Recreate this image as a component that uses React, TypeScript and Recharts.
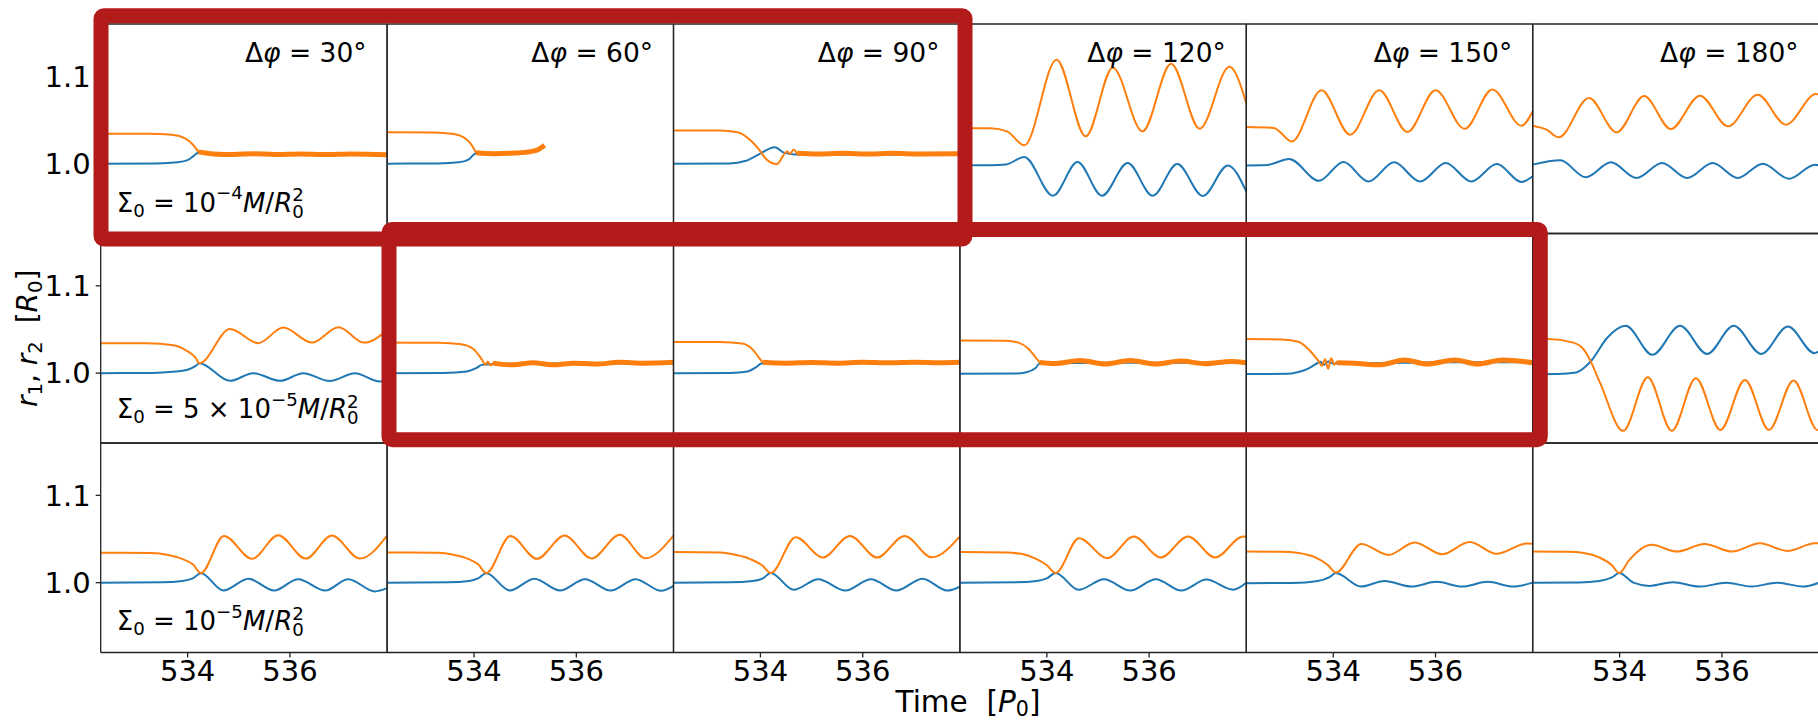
import React from "react";
import { LineChart, Line, XAxis, YAxis } from "recharts";

const FIG_W = 1818;
const FIG_H = 721;
const X0 = 100.7;
const Y0 = 24;
const W = 286.4;
const H = 209.5;

const T_DOMAIN = [532.3, 537.9];
const R_DOMAIN = [0.92, 1.16];
const X_TICKS = [534, 536];
const Y_TICKS = [1.0, 1.1];
const DPHI = [30, 60, 90, 120, 150, 180];
const SIGMA_ROWS = [
  { pre: "", exp: "4" },
  { pre: "5 × ", exp: "5" },
  { pre: "", exp: "5" },
];

const BLUE = "#1f77b4";
const ORANGE = "#ff7f0e";
const BOX = "#b31b1b";
const FONT = "DejaVu Sans";

// row a: Sigma0 = 1e-4
const a30Blue = [[532.3, 1.0], [533.4, 1.0003], [533.8, 1.0015], [534.0, 1.004], [534.12, 1.009], [534.21, 1.0125], [534.6, 1.0108], [535.5, 1.0105], [536.5, 1.0105], [537.9, 1.0103]];
const a30Orange = [[532.3, 1.0344], [533.2, 1.0343], [533.7, 1.033], [533.95, 1.029], [534.1, 1.022], [534.21, 1.0135]];
const a30Band = [[534.21, 1.0135], [534.5, 1.0112], [534.9, 1.0106], [535.3, 1.0115], [535.7, 1.0105], [536.2, 1.0112], [536.7, 1.0104], [537.2, 1.0112], [537.9, 1.0103]];

const a60Blue = [[532.3, 1.0], [533.3, 1.0003], [533.7, 1.0015], [533.9, 1.005], [534.04, 1.012], [534.5, 1.0115], [535.0, 1.013], [535.38, 1.019]];
const a60Orange = [[532.3, 1.0359], [533.2, 1.0357], [533.6, 1.034], [533.85, 1.028], [533.97, 1.02], [534.04, 1.0125]];
const a60Band = [[534.04, 1.0125], [534.4, 1.0115], [534.8, 1.0122], [535.1, 1.0138], [535.25, 1.016], [535.38, 1.021]];

const a90Blue = [[532.3, 1.0], [533.4, 1.0003], [533.7, 1.003], [533.95, 1.01], [534.28, 1.0187], [534.47, 1.0124], [534.7, 1.0105], [535.5, 1.0103], [536.5, 1.0103], [537.9, 1.0103]];
const a90Orange = [[532.3, 1.0381], [533.2, 1.038], [533.55, 1.036], [533.8, 1.027], [534.0, 1.014], [534.1, 1.006], [534.32, 0.9996], [534.52, 1.014], [534.58, 1.0115], [534.65, 1.016], [534.72, 1.011]];
const a90Band = [[534.72, 1.012], [535.1, 1.0112], [535.6, 1.0118], [536.1, 1.0112], [536.6, 1.0118], [537.1, 1.0112], [537.9, 1.0115]];

const a120Blue = [[532.3, 0.998], [532.9, 0.9982], [533.2, 0.999], [533.56, 1.0077], [534.12, 0.9633], [534.6, 1.0019], [535.08, 0.9633], [535.58, 1.0008], [536.07, 0.9633], [536.55, 0.9996], [537.05, 0.963], [537.54, 0.998], [537.9, 0.968]];
const a120Orange = [[532.3, 1.0409], [532.9, 1.0405], [533.22, 1.037], [533.56, 1.021], [534.19, 1.1191], [534.76, 1.0313], [535.29, 1.11], [535.87, 1.037], [536.43, 1.1145], [536.99, 1.0401], [537.57, 1.1111], [537.9, 1.0695]];

const a150Blue = [[532.3, 0.998], [532.7, 0.9985], [533.14, 1.0054], [533.72, 0.9803], [534.2, 1.0019], [534.69, 0.9795], [535.19, 1.0015], [535.7, 0.9795], [536.2, 1.0008], [536.7, 0.9795], [537.2, 0.9996], [537.68, 0.979], [537.9, 0.9855]];
const a150Orange = [[532.3, 1.042], [532.84, 1.041], [533.19, 1.0255], [533.77, 1.084], [534.33, 1.0332], [534.9, 1.0842], [535.45, 1.0363], [536.0, 1.0842], [536.57, 1.04], [537.11, 1.085], [537.68, 1.0435], [537.9, 1.06]];

const a180Blue = [[532.3, 0.9989], [532.84, 1.0038], [533.34, 0.9843], [533.83, 1.0015], [534.33, 0.9836], [534.83, 1.0008], [535.32, 0.9836], [535.82, 1.0008], [536.31, 0.9836], [536.8, 1.0], [537.31, 0.9828], [537.82, 0.9989], [537.9, 0.998]];
const a180Orange = [[532.3, 1.0435], [532.57, 1.039], [532.81, 1.0302], [533.4, 1.0753], [533.94, 1.0359], [534.48, 1.0774], [535.0, 1.0397], [535.57, 1.0779], [536.12, 1.0428], [536.7, 1.079], [537.25, 1.0447], [537.84, 1.0798], [537.9, 1.0795]];

// row b: Sigma0 = 5e-5
const b30Blue = [[532.3, 1.0], [533.3, 1.0003], [533.7, 1.0015], [534.0, 1.004], [534.15, 1.008], [534.23, 1.0115], [534.83, 0.9912], [535.28, 1.0], [535.81, 0.9912], [536.26, 1.0], [536.78, 0.991], [537.27, 1.0], [537.76, 0.9904], [537.9, 0.9915]];
const b30Orange = [[532.3, 1.0344], [533.2, 1.0342], [533.72, 1.032], [534.0, 1.025], [534.15, 1.018], [534.23, 1.0115], [534.83, 1.0507], [535.38, 1.0344], [535.87, 1.0522], [536.43, 1.035], [536.95, 1.0527], [537.45, 1.035], [537.9, 1.049]];

const b60Blue = [[532.3, 1.0], [533.4, 1.0003], [533.86, 1.002], [534.05, 1.006], [534.15, 1.0095], [534.5, 1.0105], [535.5, 1.011], [536.5, 1.0112], [537.9, 1.0115]];
const b60Orange = [[532.3, 1.035], [533.3, 1.0348], [533.75, 1.033], [533.98, 1.028], [534.1, 1.02], [534.17, 1.014], [534.22, 1.0095], [534.27, 1.0135], [534.32, 1.009], [534.37, 1.012]];
const b60Band = [[534.37, 1.0115], [534.75, 1.0095], [535.15, 1.012], [535.55, 1.0095], [535.95, 1.0115], [536.4, 1.0105], [536.85, 1.0125], [537.3, 1.0115], [537.9, 1.0125]];

const b90Blue = [[532.3, 1.0], [533.4, 1.0003], [533.75, 1.002], [533.92, 1.007], [534.02, 1.011], [534.5, 1.0115], [535.5, 1.0115], [536.5, 1.0118], [537.9, 1.012]];
const b90Orange = [[532.3, 1.0358], [533.2, 1.0356], [533.64, 1.034], [533.85, 1.027], [533.98, 1.017], [534.05, 1.012]];
const b90Band = [[534.05, 1.0125], [534.5, 1.0115], [535.0, 1.0122], [535.5, 1.0115], [536.0, 1.0125], [536.5, 1.0118], [537.0, 1.0125], [537.5, 1.012], [537.9, 1.0125]];

const b120Blue = [[532.3, 0.9992], [533.4, 0.9995], [533.6, 1.001], [533.78, 1.006], [533.86, 1.011], [534.3, 1.0115], [535.3, 1.0118], [536.3, 1.012], [537.9, 1.012]];
const b120Orange = [[532.3, 1.0373], [533.2, 1.037], [533.44, 1.035], [533.64, 1.028], [533.78, 1.018], [533.86, 1.0121]];
const b120Band = [[533.86, 1.0121], [534.15, 1.011], [534.65, 1.0145], [535.14, 1.0105], [535.63, 1.0145], [536.12, 1.0105], [536.62, 1.014], [537.1, 1.0108], [537.6, 1.0135], [537.9, 1.012]];

const b150Blue = [[532.3, 0.999], [533.1, 0.9992], [533.3, 1.001], [533.5, 1.005], [533.65, 1.01], [533.75, 1.013], [533.82, 1.0095], [533.9, 1.0135], [534.0, 1.011], [534.4, 1.0115], [535.5, 1.012], [536.5, 1.0125], [537.9, 1.0125]];
const b150Orange = [[532.3, 1.039], [533.0, 1.0385], [533.32, 1.036], [533.54, 1.026], [533.71, 1.014], [533.78, 1.0085], [533.84, 1.016], [533.9, 1.005], [533.96, 1.017], [534.02, 1.01], [534.08, 1.014]];
const b150Band = [[534.08, 1.012], [534.4, 1.0115], [534.9, 1.0095], [535.4, 1.015], [535.83, 1.0105], [536.38, 1.015], [536.82, 1.0105], [537.31, 1.015], [537.9, 1.012]];

const b180Blue = [[532.3, 0.9989], [532.8, 0.999], [533.15, 1.0007], [533.35, 1.0084], [533.45, 1.0145], [533.75, 1.04], [534.12, 1.0542], [534.64, 1.021], [535.18, 1.0542], [535.71, 1.0221], [536.23, 1.0542], [536.77, 1.022], [537.29, 1.0534], [537.81, 1.0229], [537.9, 1.025]];
const b180Orange = [[532.3, 1.039], [532.6, 1.039], [533.09, 1.035], [533.3, 1.027], [533.42, 1.0152], [533.62, 0.9885], [534.07, 0.9339], [534.55, 0.9954], [535.02, 0.934], [535.49, 0.9943], [535.97, 0.935], [536.45, 0.9923], [536.92, 0.935], [537.4, 0.9916], [537.87, 0.935], [537.9, 0.9355]];

// row c: Sigma0 = 1e-5
const c30Blue = [[532.3, 1.0], [533.5, 1.0005], [533.9, 1.002], [534.1, 1.005], [534.26, 1.0108], [534.7, 0.991], [535.19, 1.0044], [535.69, 0.991], [536.16, 1.004], [536.69, 0.991], [537.14, 1.004], [537.66, 0.99], [537.9, 0.9937]];
const c30Orange = [[532.3, 1.0344], [533.3, 1.034], [533.6, 1.032], [533.9, 1.027], [534.1, 1.021], [534.26, 1.011], [534.71, 1.0536], [535.26, 1.0273], [535.77, 1.0544], [536.31, 1.0276], [536.82, 1.054], [537.37, 1.0276], [537.9, 1.054]];

const c60Blue = [[532.3, 1.0], [533.5, 1.0005], [533.9, 1.002], [534.08, 1.005], [534.24, 1.0108], [534.7, 0.991], [535.18, 1.0044], [535.68, 0.991], [536.17, 1.004], [536.67, 0.991], [537.16, 1.004], [537.66, 0.9906], [537.9, 0.9963]];
const c60Orange = [[532.3, 1.0345], [533.3, 1.0342], [533.6, 1.032], [533.9, 1.027], [534.08, 1.021], [534.24, 1.011], [534.71, 1.0536], [535.23, 1.0273], [535.77, 1.054], [536.3, 1.0278], [536.85, 1.0548], [537.35, 1.028], [537.9, 1.054]];

const c90Blue = [[532.3, 1.0], [533.4, 1.0004], [533.85, 1.002], [534.05, 1.005], [534.2, 1.011], [534.65, 0.9918], [535.13, 1.004], [535.66, 0.991], [536.16, 1.004], [536.66, 0.991], [537.17, 1.0044], [537.65, 0.991], [537.9, 0.9955]];
const c90Orange = [[532.3, 1.035], [533.2, 1.0345], [533.41, 1.033], [533.8, 1.027], [534.03, 1.02], [534.2, 1.011], [534.69, 1.0521], [535.22, 1.0288], [535.75, 1.0536], [536.28, 1.0288], [536.82, 1.0536], [537.35, 1.029], [537.9, 1.053]];

const c120Blue = [[532.3, 1.0], [533.4, 1.0004], [533.8, 1.002], [534.0, 1.005], [534.17, 1.011], [534.62, 0.9918], [535.12, 1.004], [535.63, 0.991], [536.13, 1.004], [536.63, 0.991], [537.12, 1.0035], [537.64, 0.992], [537.9, 1.0]];
const c120Orange = [[532.3, 1.035], [533.2, 1.0345], [533.5, 1.033], [533.8, 1.027], [534.0, 1.02], [534.17, 1.011], [534.63, 1.051], [535.18, 1.028], [535.7, 1.0528], [536.23, 1.0288], [536.76, 1.053], [537.29, 1.0288], [537.84, 1.053], [537.9, 1.0525]];

const c150Blue = [[532.3, 0.9994], [533.2, 0.9997], [533.7, 1.002], [533.92, 1.006], [534.05, 1.011], [534.54, 0.9955], [535.0, 1.002], [535.53, 0.9955], [536.02, 1.001], [536.52, 0.9955], [537.02, 1.001], [537.52, 0.9955], [537.9, 1.0]];
const c150Orange = [[532.3, 1.0356], [533.0, 1.0354], [533.32, 1.034], [533.65, 1.029], [533.9, 1.02], [534.05, 1.0116], [534.55, 1.0444], [535.08, 1.0318], [535.59, 1.046], [536.13, 1.0326], [536.67, 1.0466], [537.19, 1.033], [537.79, 1.045], [537.9, 1.0445]];

const c180Blue = [[532.3, 1.0], [533.2, 1.0003], [533.6, 1.002], [533.85, 1.006], [533.99, 1.011], [534.27, 1.0], [534.58, 0.9963], [535.04, 1.0005], [535.58, 0.9955], [536.08, 1.0], [536.58, 0.9955], [537.08, 1.0], [537.59, 0.9955], [537.9, 1.0]];
const c180Orange = [[532.3, 1.0356], [533.0, 1.0354], [533.3, 1.034], [533.6, 1.029], [533.85, 1.02], [533.99, 1.011], [534.19, 1.0261], [534.62, 1.0433], [535.12, 1.0356], [535.66, 1.0444], [536.2, 1.0356], [536.74, 1.0452], [537.28, 1.0364], [537.82, 1.0452], [537.9, 1.045]];

type Pts = number[][];
interface PanelDef {
  blue: Pts;
  orange: Pts;
  band?: Pts;
}

const PANELS: PanelDef[][] = [
  [
    { blue: a30Blue, orange: a30Orange, band: a30Band },
    { blue: a60Blue, orange: a60Orange, band: a60Band },
    { blue: a90Blue, orange: a90Orange, band: a90Band },
    { blue: a120Blue, orange: a120Orange },
    { blue: a150Blue, orange: a150Orange },
    { blue: a180Blue, orange: a180Orange },
  ],
  [
    { blue: b30Blue, orange: b30Orange },
    { blue: b60Blue, orange: b60Orange, band: b60Band },
    { blue: b90Blue, orange: b90Orange, band: b90Band },
    { blue: b120Blue, orange: b120Orange, band: b120Band },
    { blue: b150Blue, orange: b150Orange, band: b150Band },
    { blue: b180Blue, orange: b180Orange },
  ],
  [
    { blue: c30Blue, orange: c30Orange },
    { blue: c60Blue, orange: c60Orange },
    { blue: c90Blue, orange: c90Orange },
    { blue: c120Blue, orange: c120Orange },
    { blue: c150Blue, orange: c150Orange },
    { blue: c180Blue, orange: c180Orange },
  ],
];

function mergeSeries(series: Record<string, Pts | undefined>) {
  const byT = new Map<number, any>();
  for (const [key, pts] of Object.entries(series)) {
    if (!pts) continue;
    for (const [t, r] of pts) {
      const row = byT.get(t) ?? { t };
      row[key] = r;
      byT.set(t, row);
    }
  }
  return [...byT.values()].sort((a, b) => a.t - b.t);
}

const tickStyle = { fill: "#000", fontSize: 29, fontFamily: FONT };

// room reserved for the axes so the plot area lands exactly on the panel
const LEFT_AX = 80;
const BOTTOM_AX = 40;
const TOP_AX = 2;
const RIGHT_AX = 2;

function Panel({ row, col, def }: { row: number; col: number; def: PanelDef }) {
  const left = X0 + col * W;
  const top = Y0 + row * H;
  const chartW = FIG_W + 6;
  const data = mergeSeries({ blue: def.blue, orange: def.orange, band: def.band });
  return (
    <div style={{ position: "absolute", left: 0, top: 0 }}>
      <LineChart
        width={chartW}
        height={FIG_H}
        data={data}
        margin={{
          left: left - LEFT_AX,
          top: top - TOP_AX,
          right: chartW - left - W - RIGHT_AX,
          bottom: FIG_H - top - H - BOTTOM_AX,
        }}
      >
        <XAxis
          type="number"
          dataKey="t"
          domain={T_DOMAIN}
          allowDataOverflow
          ticks={X_TICKS}
          interval={0}
          height={BOTTOM_AX}
          stroke="#222"
          strokeWidth={1.3}
          tickSize={5}
          tickMargin={3}
          tick={row === 2 ? tickStyle : false}
        />
        <XAxis
          xAxisId="top"
          orientation="top"
          type="number"
          dataKey="t"
          domain={T_DOMAIN}
          allowDataOverflow
          height={TOP_AX}
          stroke="#222"
          strokeWidth={1.3}
          tick={false}
          tickLine={false}
        />
        <YAxis
          type="number"
          domain={R_DOMAIN}
          allowDataOverflow
          ticks={Y_TICKS}
          interval={0}
          width={LEFT_AX}
          stroke="#222"
          strokeWidth={1.3}
          tickSize={5}
          tickMargin={5}
          tick={col === 0 ? tickStyle : false}
          tickFormatter={(v: number) => v.toFixed(1)}
        />
        <YAxis
          yAxisId="right"
          orientation="right"
          type="number"
          domain={R_DOMAIN}
          allowDataOverflow
          width={RIGHT_AX}
          stroke="#222"
          strokeWidth={1.3}
          tick={false}
          tickLine={false}
        />
        <Line
          dataKey="blue"
          type="monotone"
          stroke={BLUE}
          strokeWidth={2}
          dot={false}
          connectNulls
          isAnimationActive={false}
        />
        <Line
          dataKey="orange"
          type="monotone"
          stroke={ORANGE}
          strokeWidth={2}
          dot={false}
          connectNulls
          isAnimationActive={false}
        />
        {def.band && (
          <Line
            dataKey="band"
            type="monotone"
            stroke={ORANGE}
            strokeWidth={5}
            strokeLinejoin="round"
            dot={false}
            connectNulls
            isAnimationActive={false}
          />
        )}
      </LineChart>
    </div>
  );
}

function SigmaLabel({ row }: { row: number }) {
  const baselines = [211.7, 418.3, 630];
  const s = SIGMA_ROWS[row];
  return (
    <text x={X0 + 16} y={baselines[row]} fontSize={26}>
      Σ
      <tspan fontSize={18.2} dy={5}>0</tspan>
      <tspan dy={-5}>{` = ${s.pre}10`}</tspan>
      <tspan fontSize={18.2} dy={-12.5}>{`−${s.exp}`}</tspan>
      <tspan dy={12.5} fontStyle="italic">M</tspan>
      <tspan>/</tspan>
      <tspan fontStyle="italic">R</tspan>
      <tspan fontSize={18.2} dy={-10.5}>2</tspan>
      <tspan fontSize={18.2} dx={-11.6} dy={16.5}>0</tspan>
    </text>
  );
}

export default function App() {
  return (
    <div
      style={{
        position: "absolute",
        left: 0,
        top: 0,
        width: FIG_W,
        height: FIG_H,
        overflow: "hidden",
        background: "#fff",
      }}
    >
      {PANELS.map((rowDefs, row) =>
        rowDefs.map((def, col) => <Panel key={`${row}-${col}`} row={row} col={col} def={def} />)
      )}
      <svg
        width={FIG_W}
        height={FIG_H}
        style={{ position: "absolute", left: 0, top: 0, pointerEvents: "none" }}
        fontFamily={FONT}
      >
        {DPHI.map((d, i) => (
          <text key={d} x={X0 + (i + 1) * W - 20.5} y={Y0 + 38} fontSize={26.5} textAnchor="end">
            Δ<tspan fontStyle="italic">φ</tspan>
            {` = ${d}°`}
          </text>
        ))}
        {SIGMA_ROWS.map((_, row) => (
          <SigmaLabel key={row} row={row} />
        ))}
        <text x={968} y={712} fontSize={29.5} textAnchor="middle">
          {"Time\u00a0\u00a0["}
          <tspan fontStyle="italic">P</tspan>
          <tspan fontSize={20.6} dy={4}>0</tspan>
          <tspan dy={-4}>]</tspan>
        </text>
        <text transform={`translate(37, ${Y0 + 1.5 * H}) rotate(-90)`} fontSize={28} textAnchor="middle">
          <tspan fontStyle="italic">r</tspan>
          <tspan fontSize={19.6} dy={5}>1</tspan>
          <tspan dy={-5}>{", "}</tspan>
          <tspan fontStyle="italic">r</tspan>
          <tspan fontSize={19.6} dy={5}>2</tspan>
          <tspan dy={-5}>{"\u00a0\u00a0["}</tspan>
          <tspan fontStyle="italic">R</tspan>
          <tspan fontSize={19.6} dy={5}>0</tspan>
          <tspan dy={-5}>]</tspan>
        </text>
        <rect x={101} y={15.7} width={864} height={223.3} rx={3} fill="none" stroke={BOX} strokeWidth={15} />
        <rect x={389} y={229.5} width={1151.3} height={210.2} rx={3} fill="none" stroke={BOX} strokeWidth={15} />
      </svg>
    </div>
  );
}
